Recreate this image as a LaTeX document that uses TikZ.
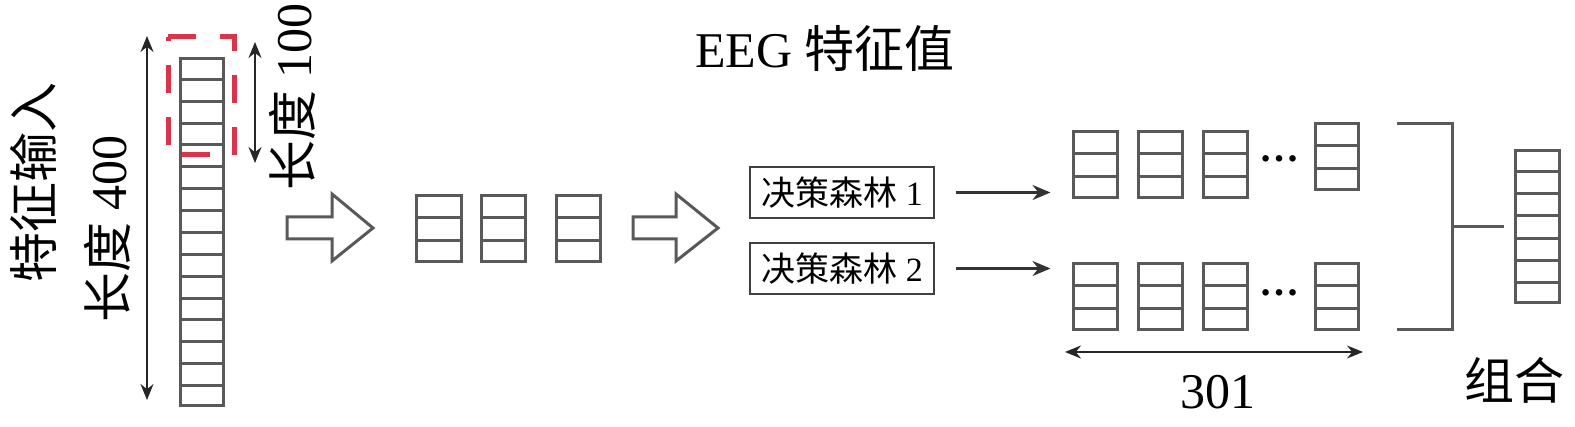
\documentclass[tikz,border=0pt]{standalone}
\usepackage{fontspec}
\setmainfont{Liberation Serif}
\newfontfamily\cjk{Noto Sans CJK SC}
\usetikzlibrary{arrows.meta,fit,calc}
\tikzset{
  colst/.style={draw=black!65, line width=3pt, inner sep=0pt},
  rowln/.style={draw=black!65, line width=3pt},
  lbl/.style={inner sep=0pt, font=\fontsize{50}{60}\selectfont},
  dotlbl/.style={inner sep=0pt, font=\fontsize{40}{48}\selectfont\bfseries},
  fbox/.style={draw=black!75, line width=2.5pt, minimum width=184pt, minimum height=51pt, inner sep=0pt, font=\fontsize{34}{40}\selectfont},
  dimarrow/.style={draw=black!85, line width=2pt, {Stealth[length=16pt,width=13pt]}-{Stealth[length=16pt,width=13pt]}},
  flowarrow/.style={draw=black!80, line width=2.5pt, -{Stealth[length=18pt,width=15pt]}, shorten <=21pt, shorten >=21pt},
  blockarrow/.style={draw=black!65, line width=3pt, line join=miter},
  reddash/.style={draw={rgb,255:red,217;green,52;blue,74}, line width=5pt, dash pattern=on 28pt off 24pt},
  brk/.style={draw=black!65, line width=3pt}
}
\newcommand\mkcol[6]{%
  \coordinate (#1-a) at (#2,#3);
  \coordinate (#1-b) at (#4,#5);
  \node[colst, fit=(#1-a)(#1-b)] (#1) {};
  \foreach \k in {1,...,#6} {
    \pgfmathsetmacro\fr{\k/(#6+1)}
    \draw[rowln] ($(#1.north west)!\fr!(#1.south west)$) -- ($(#1.north east)!\fr!(#1.south east)$);
  }
}
\begin{document}
\begin{tikzpicture}[x=1pt,y=-1pt]
\useasboundingbox (0,0) rectangle (1575,427);

% left input column
\mkcol{inp}{180}{59}{223}{406}{15}
\draw[reddash] (168,37) -- (234,37) -- (234,155) -- (168,155) -- cycle;
\coordinate (l4a) at (147,36);
\coordinate (l4b) at (147,400);
\draw[dimarrow] (l4a) -- (l4b);
\coordinate (l1a) at (255,42);
\coordinate (l1b) at (255,163);
\draw[dimarrow] (l1a) -- (l1b);
\node[lbl, rotate=90] (inlbl) at (33,183) {\cjk 特征输入};
\node[lbl, rotate=90] (len400) at (107,229) {{\cjk 长度} 400};
\node[lbl, rotate=90] (len100) at (292,97) {{\cjk 长度} 100};

% block arrows
\draw[blockarrow] (287,217) -- (332,217) -- (332,194) -- (373,228) -- (332,261) -- (332,239) -- (287,239) -- cycle;
\draw[blockarrow] (633,217) -- (676,217) -- (676,194) -- (718,228) -- (676,261) -- (676,239) -- (633,239) -- cycle;

% middle columns
\mkcol{m1}{416}{196}{461}{262}{2}
\mkcol{m2}{481}{196}{525}{262}{2}
\mkcol{m3}{556}{196}{600}{262}{2}

% title
\node[lbl] (eeg) at (825,48) {EEG {\cjk 特征值}};

% forests
\node[fbox] (f1) at (842,192.5) {{\cjk 决策森林} 1};
\node[fbox] (f2) at (842,268.5) {{\cjk 决策森林} 2};

% top row
\mkcol{t1}{1073}{132}{1117}{198}{2}
\mkcol{t2}{1138}{132}{1182}{198}{2}
\mkcol{t3}{1203}{132}{1247}{198}{2}
\mkcol{t4}{1315}{124}{1358}{190}{2}
\node[dotlbl, anchor=base] (tdots) at (1279,162) {…};

% bottom row
\mkcol{b1}{1073}{264}{1117}{330}{2}
\mkcol{b2}{1138}{264}{1182}{330}{2}
\mkcol{b3}{1203}{264}{1247}{330}{2}
\mkcol{b4}{1315}{264}{1358}{330}{2}
\node[dotlbl, anchor=base] (bdots) at (1279,296) {…};

\draw[flowarrow] (f1.east) -- (f1.east -| t1.west);
\draw[flowarrow] (f2.east) -- (f2.east -| b1.west);

% 301
\coordinate (d1) at (1065,352);
\coordinate (d2) at (1363,352);
\draw[dimarrow] (d1) -- (d2);
\node[lbl] (n301) at (1218,392) {301};

% bracket and combined
\coordinate (bt) at (1397,124);
\coordinate (bb) at (1397,330);
\coordinate (bm) at (1452,227);
\draw[brk] (bt) -| (bm) |- (bb);
\mkcol{cmb}{1515}{151}{1559}{303}{6}
\draw[brk, shorten >=10pt] (bm) -- (bm -| cmb.west);
\node[lbl] (comb) at (1514,380) {\cjk 组合};
\end{tikzpicture}
\end{document}
